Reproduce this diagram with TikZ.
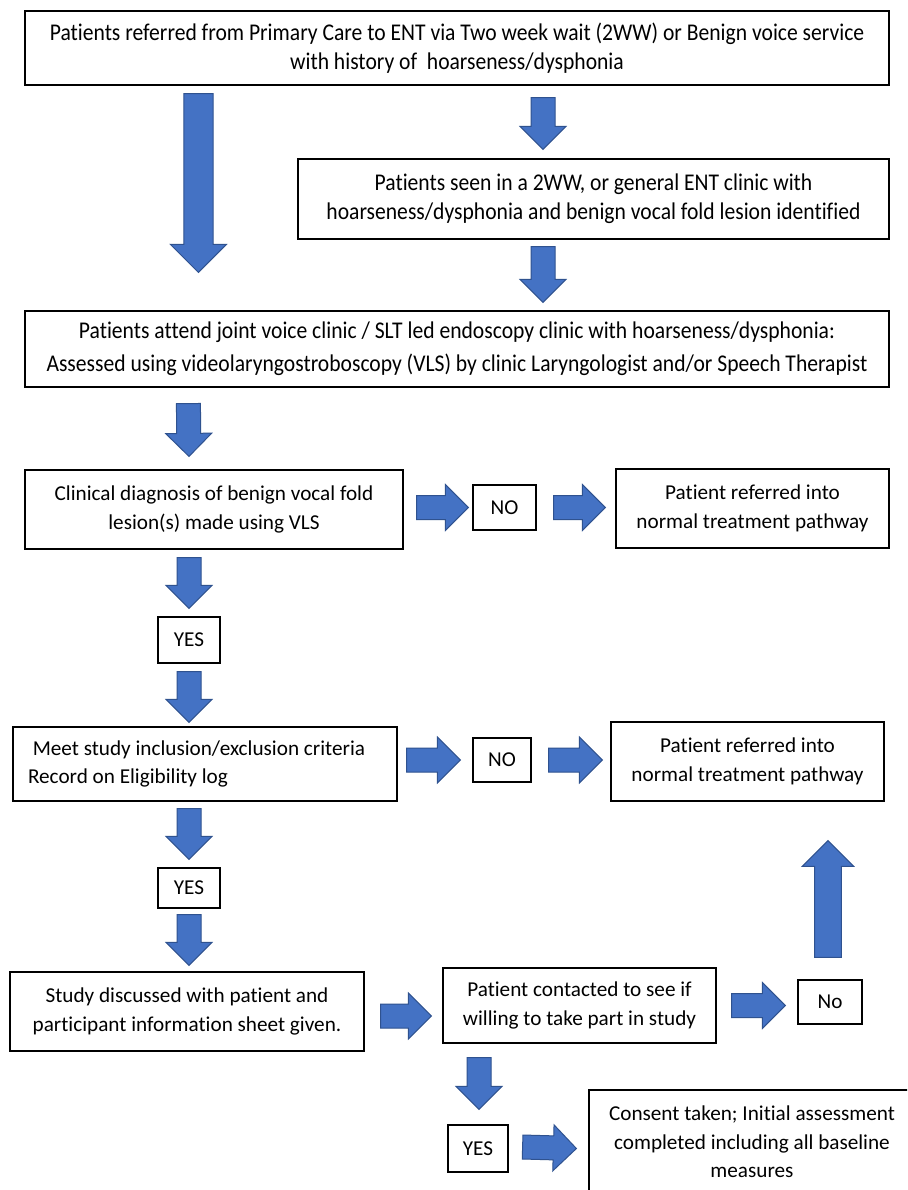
\documentclass[tikz,border=0pt]{standalone}
\usepackage{fontspec}
\setmainfont{Carlito}[Ligatures=NoCommon]
\newfontfamily\narrowfont{Carlito}[FakeStretch=0.9, Ligatures=NoCommon]
\usetikzlibrary{calc}

\definecolor{arrowblue}{HTML}{4472C4}
\definecolor{arrowedge}{HTML}{2F528F}

\tikzset{
  box/.style={draw=black, line width=0.6pt, align=center, inner sep=0pt,
    font=\fontsize{10.6}{14.2}\selectfont},
  widebox/.style={box, font=\narrowfont\fontsize{12}{14.6}\selectfont},
  blk/.style={fill=arrowblue, draw=arrowedge, line width=0.5pt, line join=miter},
}

% block arrow: #1 size factor, #2 tail, #3 tip
\newcommand{\blockarrow}[3][1]{%
  \coordinate (ba-s) at #2;
  \coordinate (ba-t) at #3;
  \coordinate (ba-c) at ($(ba-t)!#1*11.5pt!(ba-s)$);
  \filldraw[blk] ($(ba-s)!#1*6pt!90:(ba-t)$) -- ($(ba-c)!#1*6pt!90:(ba-t)$)
    -- ($(ba-c)!#1*11.5pt!90:(ba-t)$) -- (ba-t)
    -- ($(ba-c)!#1*11.5pt!-90:(ba-t)$) -- ($(ba-c)!#1*6pt!-90:(ba-t)$)
    -- ($(ba-s)!#1*6pt!-90:(ba-t)$) -- cycle;
}

\begin{document}
\begin{tikzpicture}[x=0.5pt, y=-0.5pt]
    \useasboundingbox (0,0) rectangle (907,1190);
    \fill[white] (0,0) rectangle (907,1190);
    \clip (0,0) rectangle (907,1190);

    % referral and first clinic
    \node[widebox, minimum width=432pt, minimum height=37pt] (b1) at (457,48)
        {Patients referred from Primary Care to ENT via Two week wait (2WW) or Benign voice service\\with history of\ \ hoarseness/dysphonia};
    \node[widebox, minimum width=295.5pt, minimum height=40pt] (b2) at (593.5,199)
        {Patients seen in a 2WW, or general ENT clinic with\\hoarseness/dysphonia and benign vocal fold lesion identified};
    \node[widebox, minimum width=432pt, minimum height=38pt,
        font=\narrowfont\fontsize{12}{16.5}\selectfont] (b3) at (457,349)
        {Patients attend joint voice clinic / SLT led endoscopy clinic with hoarseness/dysphonia:\\Assessed using videolaryngostroboscopy (VLS) by clinic Laryngologist and/or Speech Therapist};

    % diagnosis
    \node[box, minimum width=189pt, minimum height=39.5pt] (b4) at (214,509.5)
        {Clinical diagnosis of benign vocal fold\\lesion(s) made using VLS};
    \node[box, minimum width=31.5pt, minimum height=22.5pt] (no1) at (504.5,507.5) {NO};
    \node[box, minimum width=136.5pt, minimum height=39.5pt] (b5) at (752.5,508.5)
        {Patient referred into\\normal treatment pathway};
    \node[box, minimum width=31pt, minimum height=23pt] (yes1) at (189,640) {YES};

    % eligibility
    \node[box, minimum width=192pt, minimum height=37pt, text width=177pt, align=flush left] (b6) at (205,764)
        {\ Meet study inclusion/exclusion criteria\\Record on Eligibility log};
    \node[box, minimum width=29pt, minimum height=22pt] (no2) at (502,760) {NO};
    \node[box, minimum width=136.5pt, minimum height=39.5pt] (b7) at (747.5,761.5)
        {Patient referred into\\normal treatment pathway};
    \node[box, minimum width=31pt, minimum height=20pt] (yes2) at (189,888) {YES};

    % consent
    \node[box, minimum width=177pt, minimum height=39.5pt] (b8) at (187,1011.5)
        {Study discussed with patient and\\participant information sheet given.};
    \node[box, minimum width=136.5pt, minimum height=37.5pt] (b9) at (579.5,1005.5)
        {Patient contacted to see if\\willing to take part in study};
    \node[box, minimum width=32pt, minimum height=22pt] (no3) at (830,1002) {No};
    \node[box, minimum width=30pt, minimum height=23.5pt] (yes3) at (478,1148.5) {YES};
    \node[box, minimum width=163pt, minimum height=52pt] (b10) at (752,1142)
        {Consent taken; Initial assessment\\completed including all baseline\\measures};

    % block arrows
    \blockarrow[1.22]{($(b1.south west)+(174,8)$)}{($(b3.north west)+(174,-38)$)}
    \blockarrow{($(b1.south)+(86,12)$)}{($(b2.north)+(-50.5,-9)$)}
    \blockarrow{($(b2.south)+(-50.5,7)$)}{($(b3.north)+(86,-8)$)}
    \blockarrow{($(b3.south west)+(164,16)$)}{($(b4.north)+(-25,-13)$)}
    \blockarrow{($(b4.east |- no1.west)+(13,0)$)}{($(no1.west)+(-4,0)$)}
    \blockarrow{($(no1.east)+(17,0)$)}{($(b5.west |- no1.east)+(-10,0)$)}
    \blockarrow{($(b4.south -| yes1)+(0,8)$)}{($(yes1.north)+(0,-8)$)}
    \blockarrow{($(yes1.south)+(0,8)$)}{($(b6.north -| yes1)+(0,-4)$)}
    \blockarrow{($(b6.east |- no2.west)+(9,0)$)}{($(no2.west)+(-12,0)$)}
    \blockarrow{($(no2.east)+(17,0)$)}{($(b7.west |- no2.east)+(-8,0)$)}
    \blockarrow{($(b6.south -| yes2)+(0,7)$)}{($(yes2.north)+(0,-8)$)}
    \blockarrow{($(yes2.south)+(0,6)$)}{($(b8.north -| yes2)+(0,-6)$)}
    \blockarrow{($(b8.east)+(16,4.5)$)}{($(b9.west)+(-11,10.5)$)}
    \blockarrow{($(b9.east)+(15,0)$)}{($(no3.west |- b9.east)+(-12,0)$)}
    \blockarrow[1.12]{($(no3.north)+(-2,-22)$)}{($(b7.south)+(80.5,39)$)}
    \blockarrow{($(b9.south)+(-100.5,14)$)}{($(yes3.north)+(1,-15)$)}
    \blockarrow{($(yes3.east)+(14,-1.5)$)}{($(b10.west |- yes3.east)+(-12,0)$)}
\end{tikzpicture}
\end{document}
